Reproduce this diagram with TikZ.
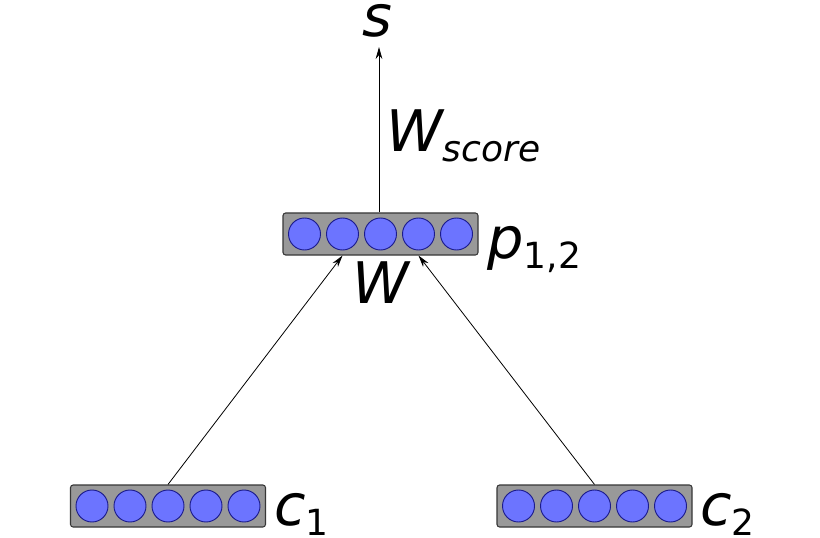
\documentclass[tikz,border=0pt]{standalone}
\usepackage{fontspec}
\setmainfont{DejaVu Sans}
\usetikzlibrary{arrows.meta}
\definecolor{boxfill}{RGB}{153,153,153}
\definecolor{boxline}{RGB}{55,55,55}
\definecolor{unitfill}{RGB}{108,116,255}
\definecolor{unitline}{RGB}{28,28,140}
\tikzset{
  layerbox/.style={draw=boxline, fill=boxfill, line width=0.8pt, rounded corners=2pt,
    minimum width=195*0.75pt, minimum height=42*0.75pt, inner sep=0pt},
  unit/.style={circle, draw=unitline, fill=unitfill, line width=0.7pt,
    minimum size=32*0.75pt, inner sep=0pt},
  conn/.style={draw=black, line width=0.6pt, -{Stealth[length=9pt,width=5pt]}},
  lbl/.style={inner sep=0pt, font=\fontsize{43}{43}\selectfont},
}
\newcommand{\mylayer}[3]{%
  \node[layerbox] (#1) at (#2,#3) {};
  \foreach \k/\dx in {1/-76,2/-38,3/0,4/38,5/76}
    \node[unit] (#1\k) at (#2+\dx,#3) {};
}
\newcommand{\subtxt}[1]{\raisebox{-7.5pt}{\fontsize{27}{27}\selectfont #1}}
\begin{document}
\begin{tikzpicture}[x=0.75pt,y=-0.75pt]
\fill[white] (0,0) rectangle (820,538);
\useasboundingbox (0,0) rectangle (820,538);
\mylayer{p}{380.5}{234}
\mylayer{ca}{168}{506}
\mylayer{cb}{594.5}{506}
\node[lbl, anchor=base] (s) at (377,37) {\itshape s};
\node[lbl, anchor=base west] (wscore) at (386,152) {\itshape W\subtxt{score}};
\node[lbl, anchor=base west] (plbl) at (487,258) {\itshape p\subtxt{\upshape 1,2}};
\node[lbl, anchor=base] (wlbl) at (381,303) {\itshape W};
\node[lbl, anchor=base west] (c1lbl) at (274,525) {\itshape c\subtxt{\upshape 1}};
\node[lbl, anchor=base west] (c2lbl) at (700,525) {\itshape c\subtxt{\upshape 2}};
\coordinate (stip) at (379,47);
\draw[conn] (p.north -| stip) -- (stip);
\draw[conn] (ca.north) -- (p2 |- p.south);
\draw[conn] (cb.north) -- (p4 |- p.south);
\end{tikzpicture}
\end{document}
